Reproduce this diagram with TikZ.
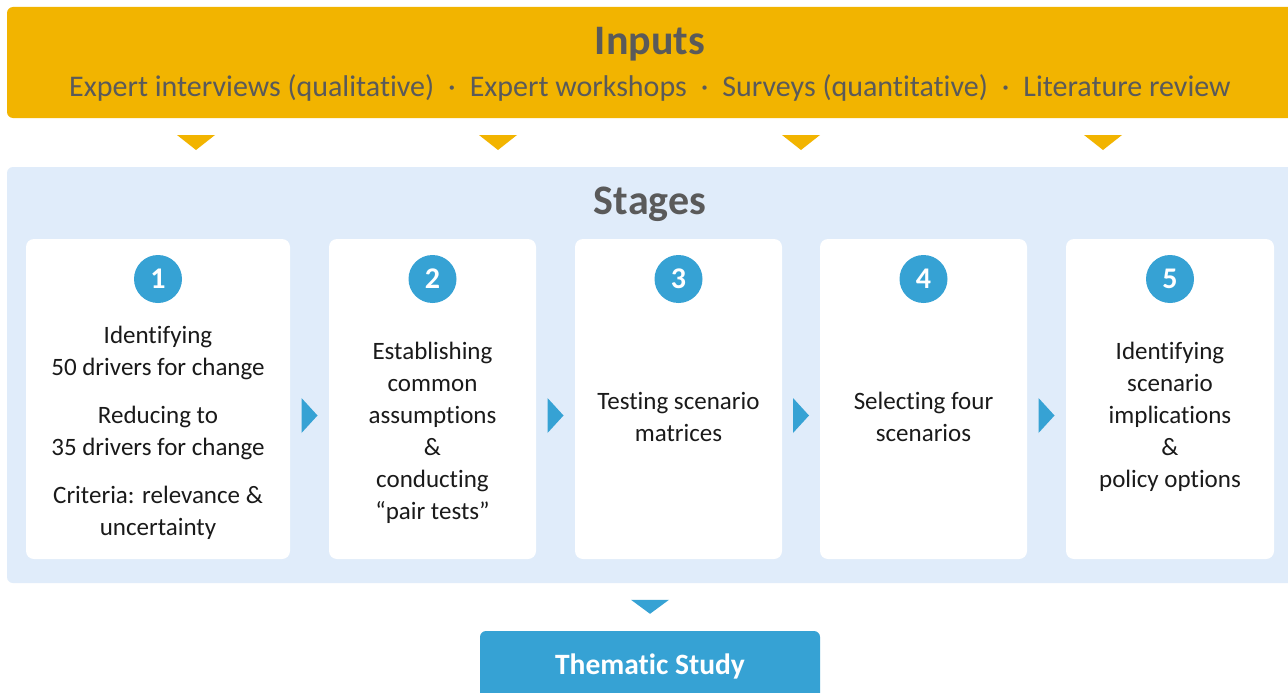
\documentclass[tikz,border=0pt]{standalone}
\usepackage{fontspec}
\setmainfont{Carlito}[Ligatures={NoCommon}]
\usetikzlibrary{positioning,calc}

\definecolor{inputyellow}{RGB}{242,180,0}
\definecolor{stagebg}{RGB}{224,236,250}
\definecolor{stepblue}{RGB}{54,162,212}
\definecolor{titlegray}{RGB}{90,90,90}
\definecolor{textblack}{RGB}{26,26,26}
\newcommand{\dotsep}{\hspace{14pt}·\hspace{14pt}}

\begin{document}
\begin{tikzpicture}[x=1pt, y=-1pt,
  band/.style={rounded corners=6pt, inner sep=0pt, minimum width=1300pt},
  bandtitle/.style={text=titlegray, font=\fontsize{42}{42}\selectfont\bfseries},
  stepbox/.style={fill=white, rounded corners=8pt, inner sep=0pt, minimum height=320pt},
  stepnum/.style={circle, fill=stepblue, inner sep=0pt, minimum size=48pt, text=white, font=\fontsize{30}{30}\selectfont\bfseries},
  steptext/.style={align=center, text=textblack, font=\fontsize{25}{32}\selectfont}]
\clip (0,0) rectangle (1288,693);
\fill[white] (0,0) rectangle (1288,693);

% inputs band
\node[band, fill=inputyellow, minimum height=111pt] (inputs) at (657,62.5) {};
\node[bandtitle] (inputstitle) at (650,44) {Inputs};
\node[text=titlegray, font=\fontsize{30}{30}\selectfont] (inputlist) at (650,88)
  {Expert interviews (qualitative)\dotsep Expert workshops\dotsep Surveys (quantitative)\dotsep Literature review};
\foreach \x in {196,498,801,1103}
  \fill[inputyellow] (\x-19,135) -- (\x+19,135) -- (\x,150) -- cycle;

% stages band
\node[band, fill=stagebg, minimum height=416pt] (stages) at (657,375) {};
\node[bandtitle] (stagestitle) at (650,204) {Stages};

\node[stepbox, minimum width=264pt] (s1) at (158,399) {};
\node[stepbox, minimum width=207pt] (s2) at (432.5,399) {};
\node[stepbox, minimum width=207pt] (s3) at (678.5,399) {};
\node[stepbox, minimum width=207pt] (s4) at (923.5,399) {};
\node[stepbox, minimum width=208pt] (s5) at (1170,399) {};

\node[stepnum, below=16pt of s1.north] (n1) {1};
\node[stepnum, below=16pt of s2.north] (n2) {2};
\node[stepnum, below=16pt of s3.north] (n3) {3};
\node[stepnum, below=16pt of s4.north] (n4) {4};
\node[stepnum, below=16pt of s5.north] (n5) {5};

\node[steptext] (t1) at (158,433) {Identifying\\50 drivers for change\\[16pt]Reducing to\\35 drivers for change\\[16pt]Criteria: relevance \&\\uncertainty};
\node[steptext] (t2) at (432.5,433) {Establishing\\common\\assumptions\\\&\\conducting\\“pair tests”};
\node[steptext] (t3) at (678.5,417) {Testing scenario\\matrices};
\node[steptext] (t4) at (923.5,417) {Selecting four\\scenarios};
\node[steptext] (t5) at (1170,417) {Identifying\\scenario\\implications\\\&\\policy options};

\foreach \a/\b in {s1/s2,s2/s3,s3/s4,s4/s5}
  \fill[stepblue] ($(\a.east)!0.5!(\b.west)+(-8,-1)$) -- ++(16,17.5) -- ++(-16,17.5) -- cycle;

% result
\node[fill=stepblue, rounded corners=6pt, minimum width=340pt, minimum height=70pt, inner sep=0pt,
  text=white, font=\fontsize{29.5}{29.5}\selectfont\bfseries] (study) at (650,666) {Thematic Study};
\fill[stepblue] ($(study.north)+(-19,-31)$) -- ++(38,0) -- ++(-19,14) -- cycle;
\end{tikzpicture}
\end{document}
